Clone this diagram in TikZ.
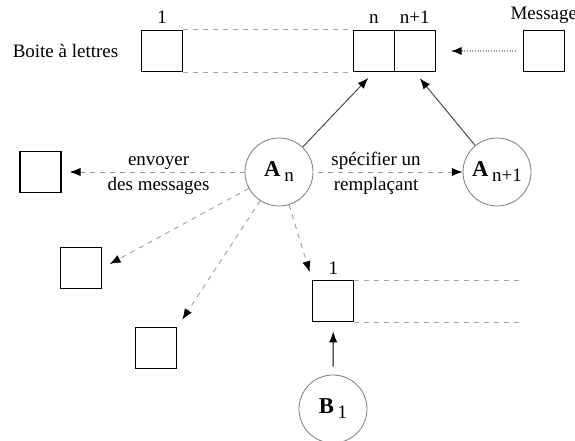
\documentclass[tikz,border=0pt]{standalone}
\usepackage{fontspec}
\setmainfont{Liberation Serif}
\usetikzlibrary{arrows.meta,positioning}

% Name of an agent: bold letter and its index
\newcommand{\nomagent}[2]{{\fontsize{13.6}{15}\selectfont\bfseries #1}\hspace{2.2pt}\raisebox{-3pt}{#2}}

\tikzset{
  case/.style={draw, line width=0.8pt, minimum size=24.6pt, inner sep=0pt},
  agent/.style={draw=gray, circle, line width=0.5pt, minimum size=40.8pt, inner sep=0pt},
  pointille/.style={draw=gray!70, dashed, line width=0.5pt},
  fleche/.style={-{Latex[length=6.5pt,width=5pt,color=black]}, draw=black!70, line width=0.6pt},
  flechetiret/.style={fleche, dashed, draw=gray!80, line width=0.5pt},
  flechepoint/.style={fleche, densely dotted, draw=gray!80, line width=0.8pt}
}

\begin{document}
\begin{tikzpicture}[x=0.6pt, y=-0.6pt, font=\fontsize{11.4}{13}\selectfont]

  % Fix the size of the picture
  \useasboundingbox (0,0) rectangle (575,441);

  % Draw the boxes of the mail box
  \node[case, label=above:1] (b1) at (162,51) {};
  \node[case, label=above:n] (bn) at (373.8,51) {};
  \node[case, label=above:n+1] (bnp) at (414.7,51) {};
  \node[left=10pt of b1] (titre) {Boite à lettres};

  % Draw the dashed sides of the mail box
  \draw[pointille] (b1.north east) -- (bn.north west);
  \draw[pointille] (b1.south east) -- (bn.south west);

  % Draw the message
  \node[case, label=above:Message] (msg) at (543.8,51) {};
  \draw[flechepoint, shorten <=4pt, shorten >=9pt] (msg.west) -- (bnp.east);

  % Draw the agents
  \node[agent] (An) at (279,172) {\nomagent{A}{n}};
  \node[agent] (Anp) at (497,172) {\nomagent{A}{n+1}};
  \node[agent] (B1) at (333,409) {\nomagent{B}{1}};

  % Draw the boxes of the messages
  \node[case] (c1) at (40.5,172) {};
  \node[case] (c2) at (81.2,268) {};
  \node[case] (c3) at (156.2,348.3) {};
  \node[case, label=above:1] (bB) at (333.3,301.2) {};

  % Draw the dashed sides of the mail box of B
  \coordinate (fin) at (523,301);
  \draw[pointille] (bB.north east) -- (bB.north east -| fin);
  \draw[pointille] (bB.south east) -- (bB.south east -| fin);

  % Draw the arrows to the mail box
  \draw[fleche, shorten >=4.8pt] (An) -- (bn.south);
  \draw[fleche, shorten >=4.8pt] (Anp) -- (bnp.south);

  % Draw the messages sent by A
  \draw[flechetiret, shorten >=4.8pt] (An) -- (c1)
    node[pos=0.47, above=-2pt] {envoyer}
    node[pos=0.47, below=-0.5pt] {des messages};
  \draw[flechetiret, shorten <=3pt] (An) -- (Anp)
    node[pos=0.42, above=-2pt] {spécifier un}
    node[pos=0.42, below=-0.5pt] {remplaçant};
  \draw[flechetiret, shorten >=5pt] (An) -- (c2.east);
  \draw[flechetiret, shorten >=5.4pt] (An) -- (c3.north east);
  \draw[flechetiret, shorten >=5pt] (An) -- (bB.north west);

  % Draw the arrow from B
  \draw[fleche, draw=black, shorten <=4.8pt, shorten >=5.5pt] (B1) -- (bB);

\end{tikzpicture}
\end{document}
